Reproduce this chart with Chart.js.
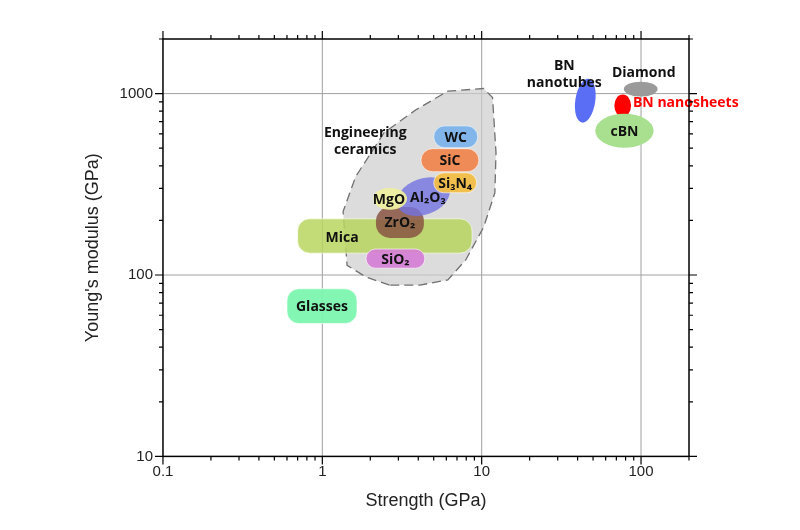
<!DOCTYPE html>
<html><head><meta charset="utf-8">
<script src="https://cdn.jsdelivr.net/npm/chart.js@4"></script>
<style>html,body{margin:0;padding:0;background:#fff}#wrap{width:800px;height:530px}</style>
</head><body><div id="wrap"><canvas id="c"></canvas></div>
<script>
const xTickLabels = [0.1, 1, 10, 100];
const yTickLabels = [10, 100, 1000];
const materials   = ['Mica','SiO₂','ZrO₂','Al₂O₃','MgO','Si₃N₄','SiC','WC','Glasses','BN nanotubes','Diamond','BN nanosheets','cBN'];
const strengthMin = [0.70, 1.88, 2.17, 2.9, 2.08, 5.0, 4.16, 5.0, 0.60, 38.7, 78, 68, 51.6];
const strengthMax = [8.7, 4.4, 4.34, 6.4, 3.4, 9.3, 9.6, 9.45, 1.65, 51.6, 127, 86.6, 120];
const modulusMin  = [132, 109, 160, 215, 229, 284, 371, 503, 54, 690, 963, 745, 503];
const modulusMax  = [204, 139, 237, 340, 302, 366, 497, 664, 84, 1210, 1164, 990, 775];
const shapeKind   = ['pill','pill','blob','ellipse','ellipse','pill','pill','pill','pill','ellipse','ellipse','ellipse','ellipse'];
const rotation    = [0,0,0,-0.35,0,0,0,0,0,0.15,0,0,0];
const fillColors  = ['rgba(185,214,95,0.85)','rgba(214,125,214,0.9)','rgba(138,85,68,0.85)','rgba(115,115,225,0.8)','rgba(238,238,160,0.95)','rgba(242,190,70,0.95)','rgba(240,135,80,0.95)','rgba(125,180,235,0.95)','rgba(125,245,175,0.95)','#5a6ef5','#9a9a9a','#ff0000','#a8e090'];
const showLabelInside = [true,true,true,true,true,true,true,true,true,false,false,false,true];
const labelX = [1.33, null, null, 4.6, 2.62, null, null, null, null, null, null, null, null];
const labelY = [162, null, null, 270, 263, null, null, null, null, null, null, null, null];
// Engineering ceramics envelope (strength, modulus)
const envStrength = [2.64,1.88,1.43,1.35,1.62,2.44,3.87,6.13,10.3,11.7,12.3,12.1,10.3,7.94,6.13,4.1];
const envModulus  = [88,97.5,113,224,349,609,815,1031,1067,951,473,284,184,121,94,88];
// Free text labels
const noteText  = ['Engineering','ceramics','BN','nanotubes','Diamond','BN nanosheets'];
const noteX     = [1.86,1.86,33,33,104,89];
const noteY     = [609,490,1428,1150,1306,890];
const noteColor = ['#111','#111','#111','#111','#111','#ff0000'];
const noteAlign = ['center','center','center','center','center','left'];

const drawPlugin = {
  id:'ashby',
  beforeDatasetsDraw(chart){
    const {ctx, chartArea:a, scales:{x,y}} = chart;
    ctx.save();
    ctx.strokeStyle='#a0a0a0'; ctx.lineWidth=1;
    xTickLabels.forEach(v=>{const p=x.getPixelForValue(v); if(p>a.left+1){ctx.beginPath();ctx.moveTo(p,a.top);ctx.lineTo(p,a.bottom);ctx.stroke();}});
    yTickLabels.forEach(v=>{const p=y.getPixelForValue(v); if(p<a.bottom-1){ctx.beginPath();ctx.moveTo(a.left,p);ctx.lineTo(a.right,p);ctx.stroke();}});
    ctx.beginPath();
    envStrength.forEach((s,i)=>{const px=x.getPixelForValue(s), py=y.getPixelForValue(envModulus[i]); i?ctx.lineTo(px,py):ctx.moveTo(px,py);});
    ctx.closePath();
    ctx.fillStyle='rgba(205,205,205,0.7)'; ctx.fill();
    ctx.setLineDash([9,5]); ctx.strokeStyle='#707070'; ctx.lineWidth=1.3; ctx.stroke(); ctx.setLineDash([]);
    materials.forEach((m,i)=>{
      const x0=x.getPixelForValue(strengthMin[i]), x1=x.getPixelForValue(strengthMax[i]);
      const y0=y.getPixelForValue(modulusMax[i]), y1=y.getPixelForValue(modulusMin[i]);
      const cx=(x0+x1)/2, cy=(y0+y1)/2, w=x1-x0, h=y1-y0;
      ctx.fillStyle=fillColors[i];
      ctx.beginPath();
      if(shapeKind[i]==='pill'){ctx.roundRect(x0,y0,w,h,Math.min(h/2,12));}
      else if(shapeKind[i]==='blob'){ctx.roundRect(x0,y0,w,h,Math.min(w,h)/2.2);}
      else {ctx.ellipse(cx,cy,w/2,h/2,rotation[i],0,Math.PI*2);}
      ctx.fill();
      if(shapeKind[i]==='pill'){ctx.strokeStyle='rgba(255,255,255,0.6)';ctx.lineWidth=1;ctx.stroke();}
    });
    materials.forEach((m,i)=>{
      if(!showLabelInside[i]) return;
      const lx = labelX[i]!=null ? x.getPixelForValue(labelX[i]) : (x.getPixelForValue(strengthMin[i])+x.getPixelForValue(strengthMax[i]))/2;
      const ly = labelY[i]!=null ? y.getPixelForValue(labelY[i]) : (y.getPixelForValue(modulusMin[i])+y.getPixelForValue(modulusMax[i]))/2;
      ctx.fillStyle='#111'; ctx.font='bold 14px "Open Sans","Noto Sans",sans-serif';
      ctx.textAlign='center'; ctx.textBaseline='middle';
      ctx.fillText(m,lx,ly+1);
    });
    noteText.forEach((t,i)=>{
      ctx.fillStyle=noteColor[i]; ctx.font='bold 14px "Open Sans","Noto Sans",sans-serif';
      ctx.textAlign=noteAlign[i]; ctx.textBaseline='middle';
      ctx.fillText(t,x.getPixelForValue(noteX[i]),y.getPixelForValue(noteY[i]));
    });
    ctx.restore();
  },
  afterDraw(chart){
    const {ctx, chartArea:a, scales:{x,y}} = chart;
    ctx.save();
    ctx.strokeStyle='#000'; ctx.lineWidth=1.5;
    ctx.strokeRect(a.left,a.top,a.right-a.left,a.bottom-a.top);
    ctx.lineWidth=1.2;
    for(let d=0.1; d<=100; d*=10){
      for(let k=1;k<=9;k++){
        const v=d*k; if(v>x.max*1.0001) continue;
        const p=x.getPixelForValue(v), L=k===1?8:4;
        ctx.beginPath();ctx.moveTo(p,a.bottom);ctx.lineTo(p,a.bottom+L);ctx.moveTo(p,a.top);ctx.lineTo(p,a.top-L);ctx.stroke();
      }
    }
    for(let d=10; d<=1000; d*=10){
      for(let k=1;k<=9;k++){
        const v=d*k; if(v>y.max*1.0001) continue;
        const p=y.getPixelForValue(v), L=k===1?8:4;
        ctx.beginPath();ctx.moveTo(a.left,p);ctx.lineTo(a.left-L,p);ctx.moveTo(a.right,p);ctx.lineTo(a.right+L,p);ctx.stroke();
      }
    }
    ctx.restore();
  }
};

new Chart(document.getElementById('c'),{
  type:'scatter',
  data:{datasets:[{data:[],pointRadius:0}]},
  plugins:[drawPlugin],
  options:{
    responsive:true, maintainAspectRatio:false, animation:false,
    layout:{padding:{left:78,right:111,top:39,bottom:14}},
    plugins:{legend:{display:false},tooltip:{enabled:false}},
    scales:{
      x:{type:'logarithmic',min:0.1,max:200,
        afterBuildTicks:s=>{s.ticks=xTickLabels.map(v=>({value:v}));},
        ticks:{callback:v=>String(v),color:'#222',font:{family:'"Liberation Sans",Arial',size:15},padding:6,maxRotation:0},
        grid:{display:false,drawTicks:false},border:{display:false},
        title:{display:true,text:'Strength (GPa)',color:'#222',font:{family:'"Liberation Sans",Arial',size:18},padding:{top:4}}},
      y:{type:'logarithmic',min:10,max:2000,
        afterBuildTicks:s=>{s.ticks=yTickLabels.map(v=>({value:v}));},
        ticks:{callback:v=>String(v),color:'#222',font:{family:'"Liberation Sans",Arial',size:15},padding:10},
        grid:{display:false,drawTicks:false},border:{display:false},
        title:{display:true,text:"Young's modulus (GPa)",color:'#222',font:{family:'"Liberation Sans",Arial',size:18},padding:{bottom:6}}}
    }
  }
});
</script></body></html>
